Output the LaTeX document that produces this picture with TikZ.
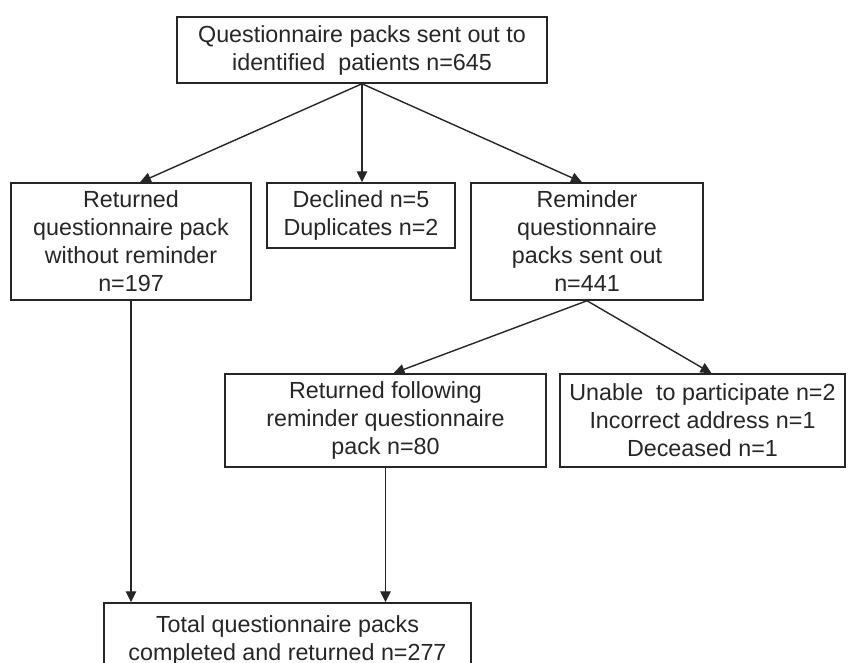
\documentclass[tikz,border=0pt]{standalone}
\usepackage{fontspec}
\setmainfont{Liberation Sans}
\usetikzlibrary{arrows.meta}
\definecolor{ink}{HTML}{262626}
\begin{document}
\begin{tikzpicture}[x=1pt,y=-1pt,
  box/.style={draw=ink, line width=1.5pt, rectangle, align=center, inner sep=0pt,
    text=ink, font=\fontsize{23.3}{28}\selectfont},
  flow/.style={draw=ink, line width=1.4pt, -{Triangle[length=11pt,width=10.5pt]}}]
  \useasboundingbox (0,0) rectangle (866,662);

  % boxes
  \node[box, minimum width=370, minimum height=66] (top) at (362,50)
    {Questionnaire packs sent out to\\identified\ \ patients n=645};
  \node[box, minimum width=240, minimum height=117] (ret) at (131,241.5)
    {Returned\\questionnaire pack\\without reminder\\n=197};
  \node[box, minimum width=188, minimum height=65] (dec) at (361,215.5)
    {Declined n=5\\Duplicates n=2};
  \node[box, minimum width=232, minimum height=117] (rem) at (587,241.5)
    {Reminder\\questionnaire\\packs sent out\\n=441};
  \node[box, minimum width=321, minimum height=93] (rfr) at (385.5,420.5)
    {Returned following\\reminder questionnaire\\pack n=80};
  \node[box, minimum width=285, minimum height=93] (una) at (702.5,420.5)
    {Unable\ \ to participate n=2\\Incorrect address n=1\\Deceased n=1};
  \node[box, minimum width=367, minimum height=74] (tot) at (287.5,640)
    {Total questionnaire packs\\completed and returned n=277};

  % connectors
  \draw[flow] (top.south) -- ([xshift=9pt]ret.north);
  \draw[flow] (top.south) -- (top.south |- dec.north);
  \draw[flow] (top.south) -- ([xshift=-5pt]rem.north);
  \draw[flow] (rem.south) -- ([xshift=8pt]rfr.north);
  \draw[flow] (rem.south) -- ([xshift=9pt]una.north);
  \draw[flow] (ret.south) -- (ret.south |- tot.north);
  \draw[flow] (rfr.south) -- (rfr.south |- tot.north);
\end{tikzpicture}
\end{document}
